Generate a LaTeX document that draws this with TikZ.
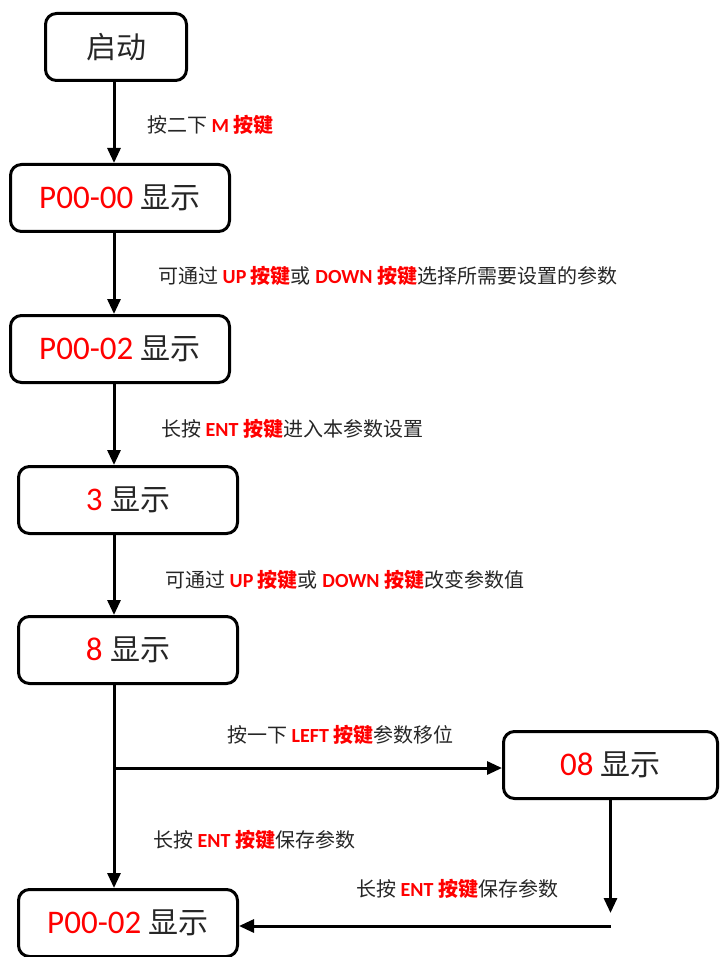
\documentclass[tikz,border=0pt]{standalone}
\usepackage{fontspec}
\setmainfont{Carlito}
\newfontfamily\cjk{Noto Sans CJK SC}
\usepackage{tikz}
\usetikzlibrary{arrows.meta}
\definecolor{keyRed}{RGB}{255,0,0}
\definecolor{txtGray}{RGB}{38,38,38}
\newcommand{\zh}[1]{{\cjk #1}}
\newcommand{\boxzh}[1]{{\fontsize{30}{36}\selectfont\cjk #1}}
\newcommand{\key}[1]{\textcolor{keyRed}{\bfseries #1}}
\tikzstyle{stateBox} = [draw, line width=3pt, rounded corners=11pt,
   inner sep=0pt, minimum height=67pt, text=txtGray,
   font=\fontsize{33}{40}\selectfont]
\tikzstyle{flowArrow} = [line width=3pt, -{Triangle[width=13pt,length=15pt]}]
\tikzstyle{stepLabel} = [anchor=west, inner sep=0pt, text=txtGray,
   font=\fontsize{20}{24}\selectfont]

\begin{document}
\begin{tikzpicture}[x=1pt,y=-1pt] %[scale=0.8]
  \useasboundingbox (0,0) rectangle (720,957);
  \node[stateBox, minimum width=141pt] (start) at (116,47) {\boxzh{启动}};
  \node[stateBox, minimum width=219pt] (p0000) at (120,198) {\textcolor{keyRed}{P00-00} \boxzh{显示}};
  \node[stateBox, minimum width=219pt] (p0002) at (120,349) {\textcolor{keyRed}{P00-02} \boxzh{显示}};
  \node[stateBox, minimum width=219pt] (show3) at (128,500) {\textcolor{keyRed}{3} \boxzh{显示}};
  \node[stateBox, minimum width=219pt] (show8) at (128,650) {\textcolor{keyRed}{8} \boxzh{显示}};
  \node[stateBox, minimum width=214pt] (show08) at (610.5,765) {\textcolor{keyRed}{08} \boxzh{显示}};
  \node[stateBox, minimum width=219pt] (final) at (128,923) {\textcolor{keyRed}{P00-02} \boxzh{显示}};
  \coordinate (trunk) at (114,0);
  \coordinate (fork) at (114,768);
  \coordinate (drop) at (610.5,913);
  \coordinate (turn) at (610.5,926);
  \draw [flowArrow] (start.south -| trunk) -- (p0000.north -| trunk);
  \draw [flowArrow] (p0000.south -| trunk) -- (p0002.north -| trunk);
  \draw [flowArrow] (p0002.south -| trunk) -- (show3.north -| trunk);
  \draw [flowArrow] (show3.south -| trunk) -- (show8.north -| trunk);
  \draw [flowArrow] (show8.south -| trunk) -- (final.north -| trunk);
  \draw [flowArrow] (fork) -- (show08.west |- fork);
  \draw [flowArrow] (show08.south -| drop) -- (drop);
  \draw [flowArrow] (turn) -- (final.east |- turn);
  \node[stepLabel] (l1) at (147,125) {\zh{按二下} \key{M \zh{按键}}};
  \node[stepLabel] (l2) at (158,276) {\zh{可通过} \key{UP \zh{按键}}\zh{或} \key{DOWN \zh{按键}}\zh{选择所需要设置的参数}};
  \node[stepLabel] (l3) at (161,429) {\zh{长按} \key{ENT \zh{按键}}\zh{进入本参数设置}};
  \node[stepLabel] (l4) at (165,580) {\zh{可通过} \key{UP \zh{按键}}\zh{或} \key{DOWN \zh{按键}}\zh{改变参数值}};
  \node[stepLabel] (l5) at (227,735) {\zh{按一下} \key{LEFT \zh{按键}}\zh{参数移位}};
  \node[stepLabel] (l6) at (153,840) {\zh{长按} \key{ENT \zh{按键}}\zh{保存参数}};
  \node[stepLabel] (l7) at (356,889) {\zh{长按} \key{ENT \zh{按键}}\zh{保存参数}};
\end{tikzpicture}
\end{document}
